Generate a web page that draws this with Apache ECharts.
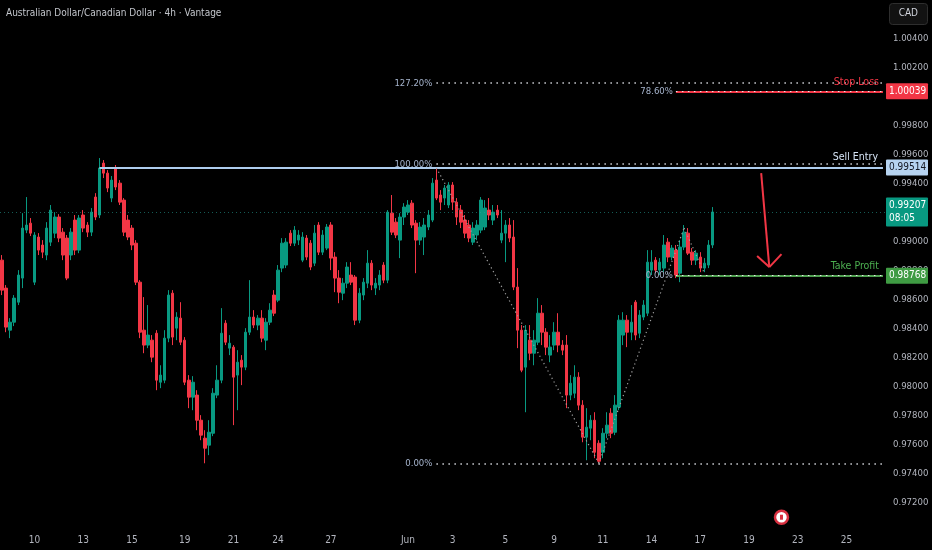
<!DOCTYPE html>
<html>
<head>
<meta charset="utf-8">
<script src="https://cdn.jsdelivr.net/npm/echarts@6/dist/echarts.min.js"></script>
<style>
html,body{margin:0;padding:0;background:#000;}
#c{width:932px;height:550px;}
</style>
</head>
<body>
<div id="c"></div>
<script>
// ---- data (AUD/CAD 4h candles) ----
const opens = [0.98875,0.98682,0.98392,0.98447,0.98585,0.98751,0.99082,0.99130,0.98723,0.99034,0.98979,0.98910,0.98999,0.99061,0.99172,0.99068,0.99027,0.98910,0.99151,0.98944,0.99186,0.99117,0.99068,0.99310,0.99186,0.99544,0.99475,0.99303,0.99510,0.99406,0.99289,0.99151,0.99096,0.98992,0.98723,0.98392,0.98289,0.98323,0.98371,0.98033,0.98047,0.98337,0.98647,0.98406,0.98475,0.98323,0.98047,0.97930,0.97944,0.97771,0.97647,0.97599,0.97681,0.97944,0.98047,0.98440,0.98268,0.98275,0.98082,0.98185,0.98137,0.98378,0.98482,0.98427,0.98475,0.98323,0.98447,0.98634,0.98599,0.98820,0.98841,0.99061,0.98992,0.99013,0.98875,0.99027,0.98992,0.98854,0.99117,0.98930,0.98958,0.99117,0.98896,0.98751,0.98647,0.98716,0.98772,0.98758,0.98461,0.98634,0.98716,0.98854,0.98682,0.98703,0.98841,0.98737,0.99199,0.99137,0.99013,0.99172,0.99206,0.99268,0.99130,0.99013,0.99034,0.99103,0.99151,0.99427,0.99324,0.99303,0.99255,0.99393,0.99275,0.99220,0.99151,0.99117,0.98999,0.99048,0.99082,0.99103,0.99220,0.99151,0.99220,0.99013,0.99061,0.99117,0.99034,0.98689,0.98392,0.98137,0.98323,0.98233,0.98309,0.98509,0.98378,0.98220,0.98289,0.98378,0.98289,0.98289,0.97944,0.97957,0.98068,0.97875,0.97654,0.97716,0.97771,0.97612,0.97550,0.97681,0.97819,0.97688,0.97861,0.98358,0.98461,0.98378,0.98585,0.98371,0.98482,0.98509,0.98806,0.98875,0.98806,0.98820,0.98999,0.98896,0.98944,0.98785,0.98965,0.99061,0.98930,0.98875,0.98896,0.98820,0.98841,0.98979];
const closes = [0.98668,0.98413,0.98447,0.98613,0.98772,0.99096,0.99117,0.99061,0.99048,0.98944,0.98930,0.99096,0.99220,0.99172,0.99027,0.98910,0.98751,0.99068,0.98944,0.99165,0.99096,0.99068,0.99206,0.99172,0.99510,0.99475,0.99372,0.99427,0.99379,0.99275,0.99068,0.99034,0.98979,0.98723,0.98378,0.98289,0.98358,0.98206,0.98047,0.98082,0.98337,0.98634,0.98344,0.98482,0.98309,0.98033,0.97930,0.98033,0.97771,0.97668,0.97578,0.97688,0.97957,0.98047,0.98371,0.98309,0.98302,0.98068,0.98171,0.98137,0.98378,0.98482,0.98427,0.98475,0.98337,0.98447,0.98530,0.98509,0.98806,0.98992,0.98999,0.98992,0.99082,0.99048,0.99034,0.98896,0.98827,0.99061,0.98930,0.99048,0.99103,0.98889,0.98751,0.98654,0.98716,0.98827,0.98723,0.98461,0.98647,0.98723,0.98854,0.98703,0.98716,0.98772,0.98737,0.99206,0.99068,0.99048,0.99172,0.99241,0.99255,0.99117,0.99013,0.99103,0.99117,0.99186,0.99406,0.99303,0.99275,0.99372,0.99393,0.99275,0.99172,0.99137,0.99061,0.99027,0.99096,0.99117,0.99289,0.99234,0.99186,0.99206,0.99186,0.99061,0.99117,0.99027,0.98689,0.98392,0.98116,0.98392,0.98233,0.98323,0.98509,0.98378,0.98275,0.98275,0.98378,0.98289,0.98254,0.97944,0.98026,0.98068,0.97875,0.97654,0.97723,0.97771,0.97550,0.97488,0.97681,0.97737,0.97681,0.97875,0.98461,0.98461,0.98378,0.98447,0.98358,0.98496,0.98565,0.98861,0.98861,0.98806,0.98861,0.98979,0.98896,0.98958,0.98772,0.98965,0.99068,0.98923,0.98875,0.98923,0.98820,0.98854,0.98979,0.99207];
const lows = [0.98634,0.98378,0.98337,0.98420,0.98565,0.98682,0.99061,0.99041,0.98703,0.98910,0.98889,0.98875,0.98972,0.99027,0.98999,0.98875,0.98737,0.98875,0.98910,0.98923,0.99068,0.99034,0.99041,0.99151,0.99165,0.99441,0.99344,0.99275,0.99358,0.99255,0.99041,0.99013,0.98944,0.98703,0.98337,0.98233,0.98268,0.98171,0.97978,0.97992,0.98026,0.98309,0.98289,0.98323,0.98289,0.98013,0.97854,0.97840,0.97702,0.97633,0.97474,0.97530,0.97661,0.97923,0.98026,0.98289,0.98220,0.97737,0.97840,0.98013,0.98116,0.98358,0.98406,0.98392,0.98309,0.98254,0.98427,0.98489,0.98585,0.98792,0.98820,0.98972,0.98972,0.98979,0.98861,0.98875,0.98806,0.98834,0.98910,0.98910,0.98944,0.98806,0.98654,0.98578,0.98599,0.98682,0.98703,0.98427,0.98440,0.98599,0.98682,0.98668,0.98634,0.98668,0.98716,0.98716,0.99048,0.99027,0.98889,0.99117,0.99186,0.99096,0.98785,0.98979,0.98910,0.99082,0.99137,0.99289,0.99220,0.99255,0.99234,0.99220,0.99117,0.99096,0.99027,0.98999,0.98979,0.99013,0.99061,0.99082,0.99151,0.99117,0.99165,0.98992,0.98861,0.98999,0.98668,0.98268,0.98102,0.97826,0.98185,0.98150,0.98289,0.98289,0.98220,0.98171,0.98254,0.98240,0.98220,0.97854,0.97909,0.97923,0.97840,0.97619,0.97495,0.97633,0.97509,0.97474,0.97509,0.97647,0.97647,0.97668,0.97840,0.98289,0.98275,0.98323,0.98323,0.98337,0.98461,0.98489,0.98772,0.98785,0.98772,0.98792,0.98861,0.98875,0.98751,0.98723,0.98944,0.98910,0.98841,0.98841,0.98792,0.98792,0.98820,0.98958];
const highs = [0.98910,0.98703,0.98475,0.98634,0.98806,0.99199,0.99310,0.99165,0.99068,0.99061,0.99013,0.99137,0.99255,0.99206,0.99192,0.99096,0.99048,0.99096,0.99186,0.99186,0.99220,0.99137,0.99234,0.99337,0.99579,0.99565,0.99496,0.99455,0.99531,0.99427,0.99303,0.99186,0.99117,0.99013,0.98737,0.98620,0.98565,0.98358,0.98392,0.98150,0.98392,0.98668,0.98668,0.98516,0.98585,0.98344,0.98082,0.98075,0.97978,0.97806,0.97702,0.97771,0.97992,0.98150,0.98544,0.98461,0.98358,0.98289,0.98254,0.98220,0.98406,0.98737,0.98530,0.98496,0.98530,0.98475,0.98578,0.98668,0.98841,0.99027,0.99027,0.99082,0.99110,0.99082,0.99068,0.99048,0.99013,0.99117,0.99137,0.99082,0.99124,0.99137,0.98930,0.98806,0.98751,0.98861,0.98861,0.98772,0.98682,0.98751,0.98944,0.98875,0.98751,0.98806,0.98861,0.99220,0.99324,0.99165,0.99199,0.99268,0.99289,0.99289,0.99151,0.99137,0.99165,0.99220,0.99441,0.99510,0.99358,0.99393,0.99413,0.99413,0.99303,0.99255,0.99186,0.99151,0.99137,0.99151,0.99310,0.99289,0.99303,0.99255,0.99255,0.99220,0.99151,0.99165,0.99151,0.98820,0.98427,0.98427,0.98427,0.98392,0.98613,0.98565,0.98406,0.98358,0.98447,0.98509,0.98323,0.98358,0.98082,0.98150,0.98102,0.97909,0.97854,0.97806,0.97826,0.97633,0.97716,0.97826,0.97854,0.97944,0.98496,0.98516,0.98496,0.98565,0.98599,0.98530,0.98599,0.98944,0.98944,0.98896,0.98889,0.99048,0.99027,0.98979,0.98979,0.99013,0.99117,0.99096,0.98958,0.98944,0.98930,0.98889,0.99013,0.99241];

const totalBars = 218;                 // visible slots incl. empty future area
const xTickLabels = ['10','13','15','19','21','24','27','Jun','3','5','9','11','14','17','19','23','25'];
const xTickIndex  = [8,20,32,45,57,68,81,100,111,124,136,148,160,172,184,196,208];

// levels / annotations (prices)
const sellEntry = 0.99514, stopLoss = 1.00039, takeProfit = 0.98768, lastPrice = 0.99207;
const fibLevels = [{p:1.00096,t:'127.20%'},{p:0.99537,t:'100.00%'},{p:0.97474,t:'0.00%'}];
const fib2Levels = [{p:1.00039,t:'78.60%'},{p:0.98768,t:'0.00%'}];
const swingPath = [[107,0.99510],[147,0.97474],[168,0.99096],[173,0.98785]];
const arrowPts = {from:[187,0.99475], tip:[189,0.98827], armL:[186,0.98903], armR:[192,0.98916]};
const flagPoint = [192,0.97102];

// ---- build ----
const tickMap = {};
xTickIndex.forEach((ix,k)=>{ tickMap[ix]=xTickLabels[k]; });
const cats = [];
for (let i=0;i<totalBars;i++) cats.push(String(i));
const candles = opens.map((o,i)=>[o, closes[i], lows[i], highs[i]]);

const FONT = '"DejaVu Sans Condensed","DejaVu Sans",sans-serif';
const UP='#089981', DOWN='#f23645';
const lastIdx = totalBars-1;
const dotStyle = {color:'#cfd2d8', type:[1.5,4.5], width:1.5};
const hidden = {color:'rgba(0,0,0,0)', width:1, type:'solid'};

function seg(a, b, lineStyle, label){
  return [{coord:a, lineStyle:lineStyle, label:label||{show:false}}, {coord:b}];
}
const ml = [];
// last price dotted line
ml.push({yAxis:lastPrice, lineStyle:{color:'rgba(38,166,154,0.55)', type:[1,3], width:1}, label:{show:false}});
// colored trade lines
ml.push(seg([24,sellEntry],[lastIdx,sellEntry], {color:'#aecdee', type:'solid', width:2}));
ml.push(seg([166,stopLoss],[lastIdx,stopLoss], {color:'#f23645', type:'solid', width:2}));
ml.push(seg([166,takeProfit],[lastIdx,takeProfit], {color:'#4f9f50', type:'solid', width:2}));
// fib dotted levels
fibLevels.forEach(f=>{
  ml.push(seg([107,f.p],[lastIdx,f.p], dotStyle,
    {show:true, position:'start', formatter:f.t, color:'#a5b3cc', fontSize:9.5, fontFamily:FONT, distance:4}));
});
fib2Levels.forEach(f=>{
  ml.push(seg([166,f.p],[lastIdx,f.p], {color:'#e8e8e8', type:[1.5,4.5], width:1.2},
    {show:true, position:'start', formatter:f.t, color:'#a5b3cc', fontSize:9.5, fontFamily:FONT, distance:3}));
});
// level captions
ml.push(seg([166,stopLoss],[lastIdx,stopLoss], hidden,
  {show:true, position:'insideEndTop', formatter:'Stop Loss', color:'#f23645', fontSize:10.5, fontFamily:FONT, distance:4}));
ml.push(seg([24,sellEntry],[lastIdx,sellEntry], hidden,
  {show:true, position:'insideEndTop', formatter:'Sell Entry', color:'#d6e4f5', fontSize:10.5, fontFamily:FONT, distance:5}));
ml.push(seg([166,takeProfit],[lastIdx,takeProfit], hidden,
  {show:true, position:'insideEndTop', formatter:'Take Profit', color:'#4caf50', fontSize:10.5, fontFamily:FONT, distance:4}));
// swing path
for (let k=0;k<swingPath.length-1;k++){
  ml.push(seg(swingPath[k],swingPath[k+1], {color:'#a0a0a0', type:[1.2,3], width:1.2}));
}
// arrow
const arrowStyle = {color:'#f23645', type:'solid', width:2};
ml.push(seg(arrowPts.from,arrowPts.tip, arrowStyle));
ml.push(seg(arrowPts.armL,arrowPts.tip, arrowStyle));
ml.push(seg(arrowPts.armR,arrowPts.tip, arrowStyle));
// price badges on the axis
function badge(price, bg, fg, text){
  return {yAxis:price, lineStyle:hidden,
    label:{show:true, position:'end', formatter:text, backgroundColor:bg, color:fg,
      fontSize:10, fontFamily:FONT, padding:[2,3,1,3], distance:1, borderRadius:1, width:36, lineHeight:13}};
}
ml.push(badge(stopLoss,'#f23645','#ffffff', stopLoss.toFixed(5)));
ml.push(badge(sellEntry,'#b6d3f0','#131722', sellEntry.toFixed(5)));
ml.push(badge(takeProfit,'#3f9b43','#ffffff', takeProfit.toFixed(5)));
ml.push(badge(lastPrice,'#089981','#ffffff', lastPrice.toFixed(5)+'\n08:05'));

const chart = echarts.init(document.getElementById('c'), null, {renderer:'canvas'});
chart.setOption({
  backgroundColor:'#000000',
  animation:false,
  title:{text:'Australian Dollar/Canadian Dollar · 4h · Vantage', left:6, top:8, padding:0,
    textStyle:{color:'#c3c6cc', fontSize:10, fontWeight:'normal', fontFamily:FONT}},
  grid:{left:0, right:47, top:10, bottom:18},
  xAxis:{type:'category', data:cats, boundaryGap:true,
    axisLine:{show:false}, axisTick:{show:false}, splitLine:{show:false},
    axisLabel:{interval:(i)=>tickMap[i]!==undefined, formatter:(v,i)=>tickMap[i]||'',
      color:'#b2b5be', fontSize:10, fontFamily:FONT, margin:3}},
  yAxis:{type:'value', position:'right', min:0.970, max:1.006, interval:0.002, scale:true,
    axisLine:{show:false}, axisTick:{show:false}, splitLine:{show:false},
    axisLabel:{formatter:(v)=>v.toFixed(5), color:'#b2b5be', fontSize:9.5, fontFamily:FONT, margin:8,
      showMinLabel:false, showMaxLabel:false}},
  graphic:[
    {type:'rect', right:4, top:3, shape:{width:38, height:21, r:3}, style:{fill:'#121212', stroke:'#2e2e2e', lineWidth:1}, z:10},
    {type:'text', right:14, top:8, style:{text:'CAD', fill:'#d1d4dc', fontSize:10, fontFamily:FONT}, z:11}
  ],
  series:[{
    type:'candlestick', data:candles, barWidth:3,
    itemStyle:{color:UP, color0:DOWN, borderColor:UP, borderColor0:DOWN, borderWidth:1},
    markLine:{symbol:['none','none'], silent:true, animation:false, precision:5, data:ml},
    markPoint:{silent:true, animation:false, data:[
      {coord:flagPoint, symbol:'circle', symbolSize:13, itemStyle:{color:'#ffffff', borderColor:'#d83040', borderWidth:2.5}, label:{show:false}},
      {coord:flagPoint, symbol:'rect', symbolSize:[3,5], itemStyle:{color:'#d83040'}, label:{show:false}}
    ]}
  }]
});
</script>
</body>
</html>
